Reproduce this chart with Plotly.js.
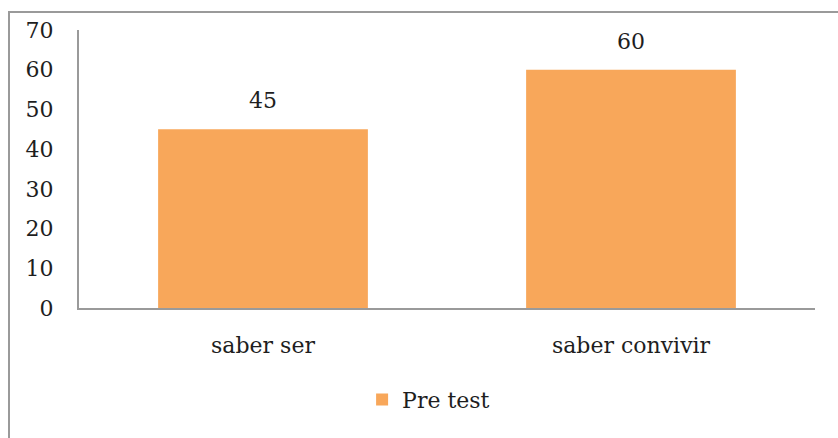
<!DOCTYPE html>
<html>
<head>
<meta charset="utf-8">
<script src="https://cdn.plot.ly/plotly-3.0.1.min.js"></script>
<style>
  html, body { margin: 0; padding: 0; background: #fff; overflow: hidden; }
  #chart { position: absolute; left: 0; top: 0; width: 838px; height: 438px; }
  #frame { position: absolute; left: 8px; top: 11px; width: 900px; height: 500px;
           border: 2px solid #9a9a9a; pointer-events: none; z-index: 10; }
</style>
</head>
<body>
<div id="chart"></div>
<div id="frame"></div>
<script>
const categories = ["saber ser", "saber convivir"];
const seriesName = "Pre test";
const values = [45, 60];
const yTicks = [0, 10, 20, 30, 40, 50, 60, 70];

const FONT = "DejaVu Serif, serif";
const TEXT = "#1e1e1e";
const BAR = "#F8A75A";
const AXIS = "#9a9a9a";

const trace = {
  type: "bar",
  x: categories,
  y: values,
  name: seriesName,
  marker: { color: BAR },
  showlegend: true,
  hoverinfo: "none"
};

const annotations = categories.map((c, i) => ({
  x: c, y: values[i], xref: "x", yref: "y",
  text: String(values[i]), showarrow: false,
  yanchor: "bottom", yshift: 14,
  font: { family: FONT, size: 22, color: TEXT }
}));

const layout = {
  width: 838, height: 438,
  margin: { l: 79, r: 23, t: 30, b: 130 },
  paper_bgcolor: "rgba(0,0,0,0)",
  plot_bgcolor: "rgba(0,0,0,0)",
  font: { family: FONT, size: 22, color: TEXT },
  bargap: 0.43,
  showlegend: true,
  legend: {
    orientation: "h", x: 0.475, xanchor: "center", y: -0.33, yanchor: "middle",
    font: { family: FONT, size: 22, color: TEXT }
  },
  xaxis: {
    type: "category",
    showline: true, linecolor: AXIS, linewidth: 2,
    ticks: "", showgrid: false, zeroline: false,
    ticklabelstandoff: 17,
    tickfont: { family: FONT, size: 22, color: TEXT }
  },
  yaxis: {
    range: [0, 70],
    tickvals: yTicks, ticktext: yTicks.map(String),
    showline: true, linecolor: AXIS, linewidth: 2,
    ticks: "", showgrid: false, zeroline: false,
    ticklabelstandoff: 19,
    tickfont: { family: FONT, size: 22, color: TEXT }
  },
  annotations: annotations
};

Plotly.newPlot("chart", [trace], layout, { displayModeBar: false, staticPlot: true });
</script>
</body>
</html>
